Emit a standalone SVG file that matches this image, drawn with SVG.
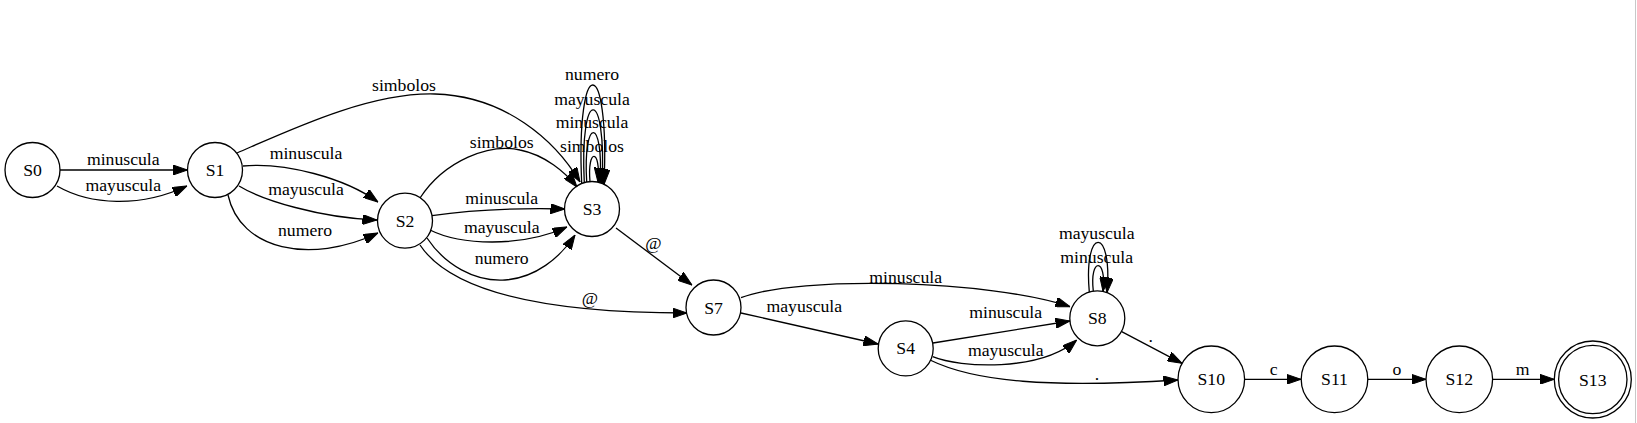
<svg xmlns="http://www.w3.org/2000/svg" width="1637" height="423" viewBox="0 0 1637 423">
<style>
  .node circle { fill: none; stroke: #000; stroke-width: 1.3; }
  text { font-family: "Liberation Serif", "Times New Roman", serif; font-size: 17.7px; fill: #000; }
  .node text, .lbl { text-anchor: middle; }
  .edge { fill: none; stroke: #000; stroke-width: 1.3; marker-end: url(#arr); }
</style>
<defs>
  <marker id="arr" viewBox="0 0 14.5 10" markerWidth="14.5" markerHeight="10" refX="14.5" refY="5" orient="auto" markerUnits="userSpaceOnUse">
    <path d="M0,0 L14.5,5 L0,10 z" fill="#000" stroke="#000" stroke-width="1"/>
  </marker>
</defs>
<rect x="0" y="0" width="1637" height="423" fill="#fff"/>
<line x1="1635.5" y1="0" x2="1635.5" y2="423" stroke="#c8c8c8" stroke-width="1"/>

<g id="connectors">
  <path class="edge" d="M60,170 L187.5,170"/>
  <path class="edge" d="M57,186 C90,205 140,208 187,186"/>
  <path class="edge" d="M237,153 C290,130 370,92 435,94 C505,96 555,140 580,182"/>
  <path class="edge" d="M243,166 C285,162 345,178 378,202"/>
  <path class="edge" d="M239,186 C262,200 320,218 377,220"/>
  <path class="edge" d="M228,195 C240,250 310,265 378,233"/>
  <path class="edge" d="M420,198 C445,160 490,143 520,150 C545,155 565,172 577,187"/>
  <path class="edge" d="M432,215.7 C470,210 520,208 565,209"/>
  <path class="edge" d="M430,230 C460,245 520,248 567,227"/>
  <path class="edge" d="M427,238 C445,265 475,282 505,280 C535,278 560,258 575,235"/>
  <path class="edge" d="M420,245 C450,290 540,313 687,313"/>
  <path class="edge" d="M616,228 L692,285"/>
  <path class="edge" d="M581.7,183.5 C575.7,52 610,52 604,184.5"/>
  <path class="edge" d="M584.3,182.6 C579.3,85.5 607,85.5 602,183.5"/>
  <path class="edge" d="M586.7,182 C582.7,116 604,116 600,182.8"/>
  <path class="edge" d="M590,181.6 C587,148 601,148 598,182.2"/>
  <path class="edge" d="M741,297.7 C800,275 990,280 1070,306.7"/>
  <path class="edge" d="M741,313 L878,344"/>
  <path class="edge" d="M933,343 L1070,321"/>
  <path class="edge" d="M932.7,356.7 C960,368 1040,372 1076.7,340"/>
  <path class="edge" d="M930,360 C975,382 1050,388 1178,380"/>
  <path class="edge" d="M1089.3,292 C1083.3,225.7 1113,225.7 1107,292.6"/>
  <path class="edge" d="M1093.3,291.1 C1089.3,257 1107,257 1103,291.4"/>
  <path class="edge" d="M1121.7,331.7 L1182,363.3"/>
  <path class="edge" d="M1244.6,379.3 L1301,379.3"/>
  <path class="edge" d="M1367.8,379.3 L1426,379.3"/>
  <path class="edge" d="M1492.6,379.3 L1554.3,379.3"/>

  <text class="lbl" x="123.3" y="164.7">minuscula</text>
  <text class="lbl" x="123.3" y="190.7">mayuscula</text>
  <text class="lbl" x="404" y="91">simbolos</text>
  <text class="lbl" x="306" y="159.3">minuscula</text>
  <text class="lbl" x="306" y="195">mayuscula</text>
  <text class="lbl" x="305" y="236">numero</text>
  <text class="lbl" x="501.7" y="148.3">simbolos</text>
  <text class="lbl" x="501.7" y="204.3">minuscula</text>
  <text class="lbl" x="501.7" y="232.7">mayuscula</text>
  <text class="lbl" x="501.7" y="264.3">numero</text>
  <text class="lbl" x="590" y="304">@</text>
  <text class="lbl" x="653.3" y="248.5">@</text>
  <text class="lbl" x="592" y="79.5">numero</text>
  <text class="lbl" x="592" y="104.5">mayuscula</text>
  <text class="lbl" x="592" y="128">minuscula</text>
  <text class="lbl" x="592" y="152">simbolos</text>
  <text class="lbl" x="905.7" y="282.7">minuscula</text>
  <text class="lbl" x="804.3" y="312.3">mayuscula</text>
  <text class="lbl" x="1005.7" y="318.3">minuscula</text>
  <text class="lbl" x="1005.7" y="355.7">mayuscula</text>
  <text class="lbl" x="1096.7" y="238.5">mayuscula</text>
  <text class="lbl" x="1096.7" y="262.5">minuscula</text>
  <text class="lbl" x="1097" y="379.5">.</text>
  <text class="lbl" x="1150.7" y="341.5">.</text>
  <text class="lbl" x="1273.7" y="375">c</text>
  <text class="lbl" x="1397" y="375">o</text>
  <text class="lbl" x="1522.7" y="375">m</text>
</g>

<g id="S0" class="node"><circle cx="32.5" cy="170" r="27.5"/><text x="32.5" y="176">S0</text></g>
<g id="S1" class="node"><circle cx="215" cy="170" r="27.5"/><text x="215" y="176">S1</text></g>
<g id="S2" class="node"><circle cx="405" cy="220.7" r="27.5"/><text x="405" y="226.7">S2</text></g>
<g id="S3" class="node"><circle cx="592" cy="209" r="27.5"/><text x="592" y="215">S3</text></g>
<g id="S7" class="node"><circle cx="713.5" cy="307.5" r="27.5"/><text x="713.5" y="313.5">S7</text></g>
<g id="S4" class="node"><circle cx="905.7" cy="348.4" r="27.5"/><text x="905.7" y="354.4">S4</text></g>
<g id="S8" class="node"><circle cx="1097.3" cy="318.3" r="27.5"/><text x="1097.3" y="324.3">S8</text></g>
<g id="S10" class="node"><circle cx="1211.3" cy="379.3" r="33.3"/><text x="1211.3" y="385.3">S10</text></g>
<g id="S11" class="node"><circle cx="1334.5" cy="379.3" r="33.3"/><text x="1334.5" y="385.3">S11</text></g>
<g id="S12" class="node"><circle cx="1459.3" cy="379.3" r="33.3"/><text x="1459.3" y="385.3">S12</text></g>
<g id="S13" class="node"><circle cx="1592.8" cy="379.5" r="38.5"/><circle cx="1592.8" cy="379.5" r="34.2"/><text x="1592.8" y="385.5">S13</text></g>
</svg>
